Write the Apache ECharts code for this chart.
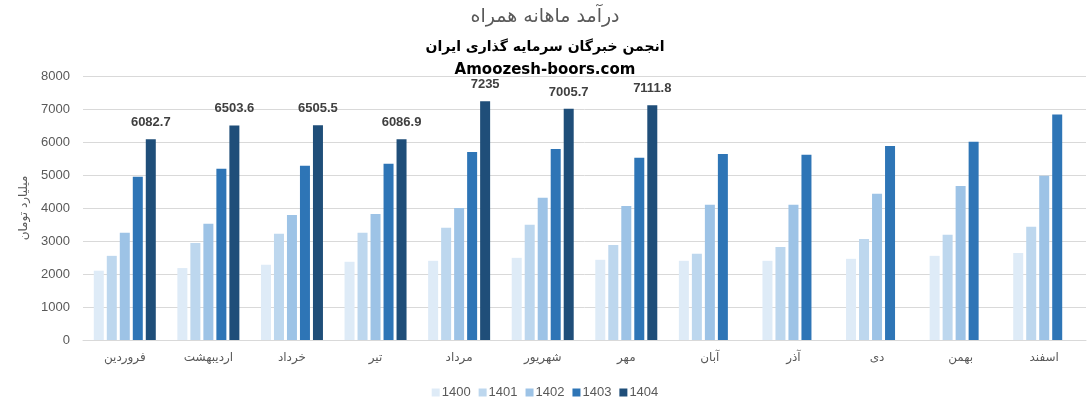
<!DOCTYPE html>
<html><head><meta charset="utf-8">
<script src="https://cdn.jsdelivr.net/npm/echarts@6/dist/echarts.min.js"></script>
<style>html,body{margin:0;padding:0;background:#fff}#c{width:1090px;height:417px}</style>
</head><body><div id="c"></div>
<script>
const months = ['فروردین','اردیبهشت','خرداد','تیر','مرداد','شهریور','مهر','آبان','آذر','دی','بهمن','اسفند'];
const years = ['1400','1401','1402','1403','1404'];
const s1400 = [2100,2180,2280,2370,2400,2490,2430,2400,2400,2460,2550,2640];
const s1401 = [2550,2940,3220,3250,3400,3490,2880,2610,2820,3060,3190,3430];
const s1402 = [3250,3520,3790,3820,4000,4310,4060,4100,4100,4430,4670,4980];
const s1403 = [4950,5190,5280,5340,5700,5790,5520,5640,5610,5880,6010,6830];
const s1404 = [6082.7,6503.6,6505.5,6086.9,7235,7005.7,7111.8,null,null,null,null,null];
const yTicks = [0,1000,2000,3000,4000,5000,6000,7000,8000];
const colors = ['#DEEBF7','#BDD7EE','#9DC3E6','#2E75B6','#1F4E79'];
const seriesData = [s1400,s1401,s1402,s1403,s1404];
const font = 'Liberation Sans, DejaVu Sans, sans-serif';

const chart = echarts.init(document.getElementById('c'));
chart.setOption({
  animation:false,
  textStyle:{fontFamily:font},
  title:[
    {text:'درآمد ماهانه همراه',left:'center',top:3,textStyle:{fontSize:19,fontWeight:'normal',color:'#595959',fontFamily:'DejaVu Sans'}},
    {text:'انجمن خبرگان سرمایه گذاری ایران',left:'center',top:35,textStyle:{fontSize:14,fontWeight:'bold',color:'#000',fontFamily:'DejaVu Sans'}},
    {text:'Amoozesh-boors.com',left:'center',top:58,textStyle:{fontSize:15,fontWeight:'bold',color:'#000',fontFamily:'DejaVu Sans'}}
  ],
  legend:{
    data:years,bottom:13,left:'center',itemWidth:8,itemHeight:8,itemGap:8,icon:'rect',
    textStyle:{fontSize:13,color:'#595959',padding:[0,0,0,-3]}
  },
  grid:{left:83,right:4,top:76,bottom:77,containLabel:false},
  xAxis:{
    type:'category',data:months,
    axisLine:{lineStyle:{color:'#D9D9D9'}},axisTick:{show:false},
    axisLabel:{color:'#595959',fontSize:12,margin:12,fontFamily:'DejaVu Sans'}
  },
  yAxis:{
    type:'value',min:yTicks[0],max:yTicks[yTicks.length-1],interval:1000,
    name:'میلیارد تومان',nameLocation:'middle',nameRotate:90,nameGap:46,
    nameTextStyle:{color:'#595959',fontSize:12,fontFamily:'DejaVu Sans'},
    axisLine:{show:false},axisTick:{show:false},
    axisLabel:{color:'#595959',fontSize:13,margin:13,formatter:v=>String(v)},
    splitLine:{lineStyle:{color:'#D9D9D9'}}
  },
  series:seriesData.map((d,i)=>({
    name:years[i],type:'bar',data:d,barWidth:10,barGap:'30%',
    itemStyle:{color:colors[i]},
    label: i===4 ? {show:true,position:'top',distance:10,color:'#404040',fontWeight:'bold',fontSize:13,formatter:p=>String(p.value)} : {show:false}
  }))
});
</script></body></html>
